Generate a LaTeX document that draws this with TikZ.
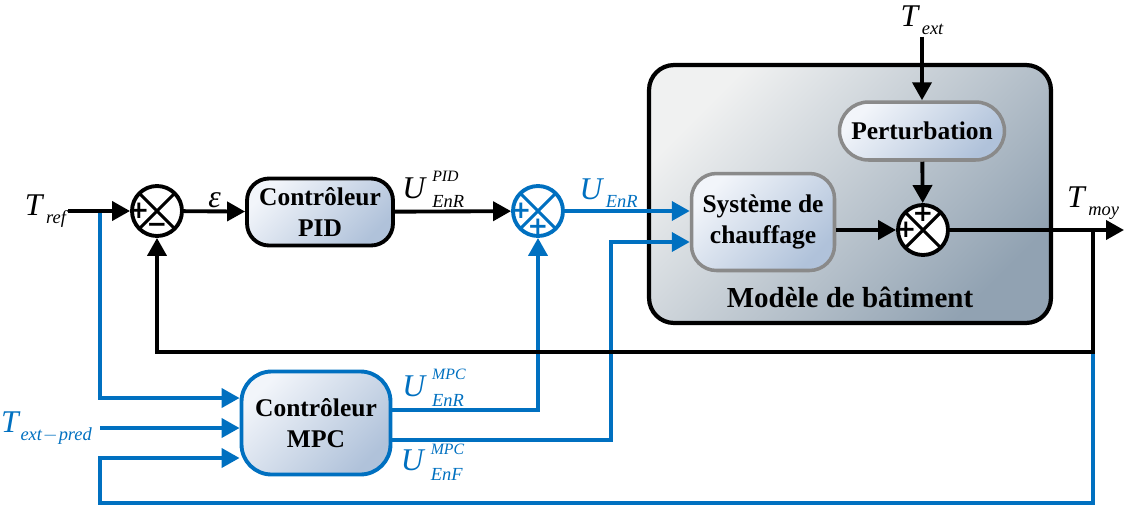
\documentclass[tikz,border=0pt]{standalone}
\usepackage{fontspec}
\setmainfont{Liberation Serif}
\newfontfamily\signfont{DejaVu Sans}
\usetikzlibrary{arrows.meta,positioning}

\definecolor{mpcblue}{RGB}{0,112,192}
\definecolor{boxlight}{RGB}{242,245,250}
\definecolor{boxdark}{RGB}{176,194,218}
\definecolor{batlight}{RGB}{240,241,241}
\definecolor{batdark}{RGB}{145,162,178}
\definecolor{boxgrey}{RGB}{138,138,138}

\newcommand{\subfont}{\fontsize{10.5}{11}\selectfont\itshape}
\newcommand{\supfont}{\fontsize{9}{10}\selectfont\itshape}
\newcommand{\sub}[3][1pt]{\textit{#2}\kern#1\raisebox{-4.5pt}{\subfont #3}}
\newcommand{\subsup}[3]{\textit{#1}\kern3pt\makebox[0pt][l]{\raisebox{9.5pt}{\supfont #3}}\raisebox{-5.5pt}{\subfont #2}}

\begin{document}
\begin{tikzpicture}[
  x=0.02cm,y=-0.02cm,
  block/.style={draw,line width=2.2pt,align=center,inner sep=2pt,font=\bfseries\fontsize{14.5}{17.5}\selectfont,top color=boxlight,bottom color=boxdark,shading angle=45},
  batbox/.style={draw,line width=2.4pt,rounded corners=0.5cm,top color=batlight,bottom color=batdark,shading angle=45,minimum width=8.04cm,minimum height=5.16cm},
  sumnode/.style={circle,draw=#1,line width=2.2pt,fill=white,minimum size=1cm,inner sep=0pt,path picture={\draw[#1,line width=1.8pt] (path picture bounding box.north west) -- (path picture bounding box.south east) (path picture bounding box.north east) -- (path picture bounding box.south west);}},
  sumnode/.default=black,
  sign/.style={font=\signfont\bfseries\fontsize{14}{14}\selectfont,inner sep=0pt},
  sigtext/.style={font=\fontsize{18}{20}\selectfont,inner sep=1pt},
  flow/.style={-{Triangle[length=0.36cm,width=0.38cm]},line width=2.2pt}
]
\useasboundingbox (0,0) rectangle (1126,508);

\node[batbox] (bat) at (850,194) {};
\node[font=\bfseries\fontsize{16.5}{20}\selectfont] (battitle) at (850,297) {Modèle de bâtiment};

\node[sumnode] (s1) at (157,211) {};
\node[sign] at ([xshift=-0.36cm]s1.center) {+};
\node[sign] at ([yshift=-0.33cm]s1.center) {−};
\node[block,minimum width=2.92cm,minimum height=1.34cm,rounded corners=0.44cm] (pid) at (320,212) {Contrôleur\\PID};
\node[sumnode=mpcblue] (s2) at (538,211) {};
\node[sign,mpcblue] at ([xshift=-0.34cm]s2.center) {+};
\node[sign,mpcblue] at ([yshift=-0.32cm]s2.center) {+};
\node[block,draw=boxgrey,line width=2pt,minimum width=2.86cm,minimum height=1.94cm,rounded corners=0.5cm] (chauf) at (763,222) {Système de\\chauffage};
\node[block,draw=boxgrey,line width=2pt,minimum width=3.3cm,minimum height=1.16cm,rounded corners=0.58cm] (pert) at (922,131) {Perturbation};
\node[sumnode] (s3) at (923,230) {};
\node[sign] at ([xshift=-0.34cm]s3.center) {+};
\node[sign] at ([yshift=0.32cm]s3.center) {+};
\node[block,draw=mpcblue,minimum width=2.98cm,minimum height=2.06cm,rounded corners=0.6cm] (mpc) at (316,423) {Contrôleur\\MPC};

\node[sigtext,anchor=east] (tref) at (68,211) {\sub{T}{ref}};
\node[sigtext] (text) at (922,20) {\sub{T}{ext}};
\node[sigtext] (tmoy) at (1093,203) {\sub{T}{moy}};
\node[sigtext,mpcblue,anchor=east] (tpred) at (94,428) {\sub[0pt]{T}{ext\kern0.5pt$-$\kern0.5pt pred}};

\coordinate (split) at (100,211);
\coordinate (tap) at (1093,230);
\coordinate (out) at (1124,230);
\coordinate (fb) at (1093,352);
\coordinate (fbb) at (1093,503);
\coordinate (fbl) at (100,503);
\coordinate (enf) at (611,242);

\draw[flow,mpcblue] (split) |- ([yshift=0.5cm]mpc.west);
\draw[flow,mpcblue] (tpred.east) ++(0.12cm,0) -- (tpred -| mpc.west);
\draw[flow,mpcblue] (fb) -- (fbb) -- (fbl) |- ([yshift=-0.7cm]mpc.west);
\draw[flow,mpcblue] ([yshift=0.26cm]mpc.east) -| node[sigtext,pos=0.14,above]{\subsup{U}{EnR}{MPC}} (s2);
\draw[flow,mpcblue] ([yshift=-0.34cm]mpc.east) -| node[sigtext,pos=0.09,below]{\subsup{U}{EnF}{MPC}} (enf) -- (enf -| chauf.west);
\draw[flow,mpcblue] (s2) -- node[sigtext,pos=0.35,above]{\sub{U}{EnR}} (s2 -| chauf.west);

\draw[flow] (tref) -- (s1);
\draw[flow] (s1) -- node[sigtext,above]{\itshape ε} (pid);
\draw[flow] (pid) -- node[sigtext,pos=0.33,above]{\subsup{U}{EnR}{PID}} (s2);
\draw[flow] (text) -- (pert);
\draw[flow] (pert) -- (s3);
\draw[flow] (chauf.east |- s3) -- (s3);
\draw[flow] (s3) -- (out);
\draw[flow] (tap) -- (fb) -| (s1);
\end{tikzpicture}
\end{document}
